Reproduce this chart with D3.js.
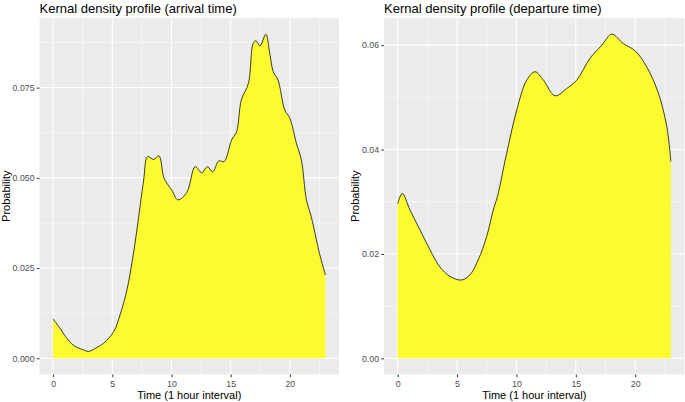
<!DOCTYPE html>
<html>
<head>
<meta charset="utf-8">
<script src="https://cdn.jsdelivr.net/npm/d3@7"></script>
<style>
  html, body { margin: 0; padding: 0; background: #ffffff; }
  svg { display: block; font-family: "Liberation Sans", Arial, sans-serif; }
</style>
</head>
<body>
<svg id="chart" width="685" height="402"></svg>
<script>
// ---- Data ----
const arrivalTime = [0, 0.63, 1.05, 1.75, 2.5, 3.0, 3.6, 4.28, 5.12, 5.7, 6.24, 6.7, 7.08, 7.65, 7.98, 8.49, 8.94, 9.33, 9.61, 10.03, 10.54, 11.3, 12.0, 12.56, 13.03, 13.48, 14.0, 14.44, 15.08, 15.5, 15.9, 16.5, 16.9, 17.13, 17.47, 17.97, 18.3, 18.6, 19.0, 19.57, 20.0, 20.55, 20.97, 21.4, 21.8, 22.5, 23.0];
const arrivalDensity = [0.0109, 0.0081, 0.0060, 0.0035, 0.0024, 0.0019, 0.0028, 0.0042, 0.0074, 0.0125, 0.0190, 0.0273, 0.0356, 0.0494, 0.0559, 0.0551, 0.0561, 0.0503, 0.0485, 0.0466, 0.0439, 0.0460, 0.0531, 0.0514, 0.0531, 0.0517, 0.0547, 0.0545, 0.0605, 0.0628, 0.0716, 0.0762, 0.0873, 0.0880, 0.0866, 0.0898, 0.0845, 0.0794, 0.0771, 0.0688, 0.0665, 0.0596, 0.0550, 0.0439, 0.0393, 0.0291, 0.0231];

const departureTime = [0, 0.39, 1.04, 1.88, 2.72, 3.56, 4.4, 5.38, 6.09, 6.79, 7.49, 8.05, 8.4, 9.18, 10.03, 10.87, 11.57, 12.27, 13.25, 14.24, 15.08, 16.2, 17.19, 18.03, 19.0, 20.0, 20.98, 21.95, 22.66, 23.0];
const departureDensity = [0.0296, 0.0316, 0.0284, 0.0246, 0.0208, 0.0175, 0.0157, 0.0150, 0.0160, 0.0189, 0.0233, 0.0284, 0.0310, 0.0393, 0.0476, 0.0533, 0.0549, 0.0533, 0.0503, 0.0517, 0.0533, 0.0575, 0.0600, 0.0621, 0.0603, 0.0589, 0.0558, 0.0508, 0.0444, 0.0377];

const xTicks = [0, 5, 10, 15, 20];
const xMinor = [-2.5, 2.5, 7.5, 12.5, 17.5, 22.5];
const arrivalYTicks = [0, 0.025, 0.05, 0.075];
const arrivalYMinor = [0.0125, 0.0375, 0.0625, 0.0875];
const departureYTicks = [0, 0.02, 0.04, 0.06];
const departureYMinor = [0.01, 0.03, 0.05];

const titles = ["Kernal density profile (arrival time)", "Kernal density profile (departure time)"];
const xTitle = "Time (1 hour interval)";
const yTitle = "Probability";

// ---- Drawing ----
const svg = d3.select("#chart");
const panelTop = 18, panelBottom = 374.5;
const fillColor = "rgb(251,251,47)";

function drawPanel(opts) {
  const g = svg.append("g");
  const x = d3.scaleLinear().domain([-1.15, 24.15]).range([opts.left, opts.right]);
  const y = d3.scaleLinear().domain(opts.yDomain).range([panelBottom, panelTop]);

  g.append("rect").attr("x", opts.left).attr("y", panelTop)
    .attr("width", opts.right - opts.left).attr("height", panelBottom - panelTop)
    .attr("fill", "#EBEBEB");

  // minor grid
  g.selectAll(".vminor").data(xMinor.filter(d => x(d) > opts.left && x(d) < opts.right)).enter().append("line")
    .attr("x1", d => x(d)).attr("x2", d => x(d)).attr("y1", panelTop).attr("y2", panelBottom)
    .attr("stroke", "#ffffff").attr("stroke-width", 0.55);
  g.selectAll(".hminor").data(opts.yMinor).enter().append("line")
    .attr("x1", opts.left).attr("x2", opts.right).attr("y1", d => y(d)).attr("y2", d => y(d))
    .attr("stroke", "#ffffff").attr("stroke-width", 0.55);
  // major grid
  g.selectAll(".vmajor").data(xTicks).enter().append("line")
    .attr("x1", d => x(d)).attr("x2", d => x(d)).attr("y1", panelTop).attr("y2", panelBottom)
    .attr("stroke", "#ffffff").attr("stroke-width", 1.1);
  g.selectAll(".hmajor").data(opts.yTicks).enter().append("line")
    .attr("x1", opts.left).attr("x2", opts.right).attr("y1", d => y(d)).attr("y2", d => y(d))
    .attr("stroke", "#ffffff").attr("stroke-width", 1.1);

  const pts = opts.time.map((t, i) => [t, opts.dens[i]]);
  const area = d3.area().x(d => x(d[0])).y0(y(0)).y1(d => y(d[1])).curve(d3.curveCatmullRom.alpha(0.5));
  const line = d3.line().x(d => x(d[0])).y(d => y(d[1])).curve(d3.curveCatmullRom.alpha(0.5));
  g.append("path").datum(pts).attr("d", area).attr("fill", fillColor);
  g.append("path").datum(pts).attr("d", line).attr("fill", "none")
    .attr("stroke", "#1a1a1a").attr("stroke-width", 0.85);

  // axes
  const xAxis = d3.axisBottom(x).tickValues(xTicks).tickSize(2.75).tickPadding(3.2).tickFormat(d3.format("d"));
  const xg = g.append("g").attr("transform", `translate(0,${panelBottom})`).call(xAxis);
  const yAxis = d3.axisLeft(y).tickValues(opts.yTicks).tickSize(2.75).tickPadding(2.2).tickFormat(d3.format(opts.yFmt));
  const yg = g.append("g").attr("transform", `translate(${opts.left},0)`).call(yAxis);
  [xg, yg].forEach(a => {
    a.select(".domain").remove();
    a.selectAll(".tick line").attr("stroke", "#333333").attr("stroke-width", 1.0);
    a.selectAll(".tick text").attr("fill", "#4D4D4D").style("font-size", "8.8px")
      .style("font-family", "'Liberation Sans', Arial, sans-serif");
  });

  // titles
  g.append("text").attr("x", opts.left).attr("y", 12.5).text(opts.title)
    .attr("fill", "#000").style("font-size", "13px");
  g.append("text").attr("x", (opts.left + opts.right) / 2).attr("y", 398.5)
    .attr("text-anchor", "middle").text(xTitle).attr("fill", "#000").style("font-size", "11px");
  g.append("text").attr("transform", `translate(${opts.yLabelX},${(panelTop + panelBottom) / 2}) rotate(-90)`)
    .attr("text-anchor", "middle").text(yTitle).attr("fill", "#000").style("font-size", "11px");
}

drawPanel({
  left: 39.5, right: 339, yDomain: [-0.0045, 0.0943],
  yTicks: arrivalYTicks, yMinor: arrivalYMinor, yFmt: ".3f",
  time: arrivalTime, dens: arrivalDensity, title: titles[0], yLabelX: 10
});
drawPanel({
  left: 384, right: 684.5, yDomain: [-0.0031, 0.0652],
  yTicks: departureYTicks, yMinor: departureYMinor, yFmt: ".2f",
  time: departureTime, dens: departureDensity, title: titles[1], yLabelX: 359
});
</script>
</body>
</html>
